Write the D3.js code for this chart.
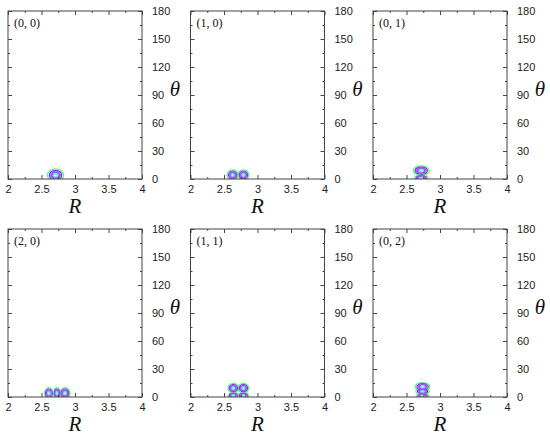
<!DOCTYPE html>
<html>
<head>
<meta charset="utf-8">
<script src="https://cdn.jsdelivr.net/npm/d3@7"></script>
<style>
  body { margin: 0; background: #fff; }
  .tick text { font-family: Arial, "Liberation Sans", sans-serif; font-size: 11px; fill: #222; }
  .tick line { stroke: #444; }
</style>
</head>
<body>
<svg id="chart" width="550" height="439"></svg>
<script>
// quantum numbers shown in each panel, row by row
const panelLabels = ['(0, 0)', '(1, 0)', '(0, 1)', '(2, 0)', '(1, 1)', '(0, 2)'];

// lobes per panel: [R centre, theta centre, R half-width, theta half-height] (outer contour)
const lobes00 = [[2.71, 4, 0.12, 7]];
const lobes10 = [[2.63, 4.3, 0.08, 5.6], [2.79, 4.3, 0.08, 5.6]];
const lobes01 = [[2.72, 9, 0.12, 5], [2.72, 1, 0.1, 3]];
const lobes20 = [[2.61, 4, 0.065, 6], [2.73, 4, 0.05, 6], [2.85, 4, 0.075, 6]];
const lobes11 = [[2.64, 9.5, 0.08, 5], [2.79, 9.5, 0.08, 5], [2.64, 1.5, 0.075, 3], [2.79, 1.5, 0.075, 3]];
const lobes02 = [[2.74, 11, 0.11, 4.5], [2.74, 6, 0.1, 2.5], [2.74, 1.2, 0.09, 2.2]];
const panelLobes = [lobes00, lobes10, lobes01, lobes20, lobes11, lobes02];

// contour levels as fraction of outer contour size
const levels = [1, 0.76, 0.6, 0.44, 0.28, 0.13];

// axes
const rDomain = [2, 4];
const thetaDomain = [0, 180];
const rMajor = [2, 2.5, 3, 3.5, 4];
const rMinor = [2.25, 2.75, 3.25, 3.75];
const thetaMajor = [0, 30, 60, 90, 120, 150, 180];
const thetaMinor = [15, 45, 75, 105, 135, 165];

//#region Layout
const svg = d3.select('#chart');
const panelWidth = 134;
const panelHeight = 168;
const colX = [8, 190.5, 373];
const rowY = [11, 229];

const levelStyle = [
    { stroke: '#55ff55', fill: 'none' },
    { stroke: '#3a3aff', fill: 'none' },
    { stroke: '#ff3cff', fill: '#e050ff' },
    { stroke: '#9a4cff', fill: '#9a4cff' },
    { stroke: '#44ffff', fill: '#66ffff' },
    { stroke: 'none', fill: '#ffffff' }
];
const serif = '"Liberation Serif", "Times New Roman", serif';
//#endregion

const x = d3.scaleLinear().domain(rDomain).range([0, panelWidth]);
const y = d3.scaleLinear().domain(thetaDomain).range([panelHeight, 0]);

const fmtR = d => d3.format('')(d);

panelLabels.forEach((label, i) => {
    const col = i % 3;
    const row = Math.floor(i / 3);
    const g = svg.append('g')
        .attr('transform', `translate(${colX[col]}, ${rowY[row]})`);

    g.append('clipPath')
        .attr('id', `clip${i}`)
        .append('rect')
        .attr('width', panelWidth)
        .attr('height', panelHeight);

    // contours
    const contours = g.append('g').attr('clip-path', `url(#clip${i})`);
    levels.forEach((f, li) => {
        contours.selectAll(null)
            .data(panelLobes[i])
            .enter().append('ellipse')
            .attr('cx', d => x(d[0]))
            .attr('cy', d => y(d[1]))
            .attr('rx', d => x(rDomain[0] + d[2] * f) - x(rDomain[0]))
            .attr('ry', d => y(0) - y(d[3] * f))
            .attr('fill', levelStyle[li].fill)
            .attr('stroke', levelStyle[li].stroke)
            .attr('stroke-width', 1.2);
    });

    // ticks on all four sides, pointing inward
    const addAxis = (axis, transform, labels) => {
        const a = g.append('g').attr('transform', transform).call(axis);
        a.select('.domain').remove();
        if (!labels) a.selectAll('text').remove();
        return a;
    };

    addAxis(d3.axisBottom(x).tickValues(rMajor).tickSize(-4).tickPadding(6).tickFormat(fmtR),
        `translate(0, ${panelHeight})`, true);
    addAxis(d3.axisBottom(x).tickValues(rMinor).tickSize(-2),
        `translate(0, ${panelHeight})`, false);
    addAxis(d3.axisTop(x).tickValues(rMajor).tickSize(-4), 'translate(0, 0)', false);
    addAxis(d3.axisTop(x).tickValues(rMinor).tickSize(-2), 'translate(0, 0)', false);

    addAxis(d3.axisRight(y).tickValues(thetaMajor).tickSize(-4).tickPadding(10),
        `translate(${panelWidth}, 0)`, true);
    addAxis(d3.axisRight(y).tickValues(thetaMinor).tickSize(-2),
        `translate(${panelWidth}, 0)`, false);
    addAxis(d3.axisLeft(y).tickValues(thetaMajor).tickSize(-4), 'translate(0, 0)', false);
    addAxis(d3.axisLeft(y).tickValues(thetaMinor).tickSize(-2), 'translate(0, 0)', false);

    g.append('rect')
        .attr('width', panelWidth)
        .attr('height', panelHeight)
        .attr('fill', 'none')
        .attr('stroke', '#444')
        .attr('stroke-width', 1);

    g.append('text')
        .attr('x', 6)
        .attr('y', 16)
        .attr('font-family', serif)
        .attr('font-size', 12)
        .attr('fill', '#111')
        .text(label);

    g.append('text')
        .attr('x', panelWidth / 2)
        .attr('y', panelHeight + 34)
        .attr('text-anchor', 'middle')
        .attr('font-family', serif)
        .attr('font-style', 'italic')
        .attr('font-size', 21)
        .attr('fill', '#111')
        .text('R');

    g.append('text')
        .attr('x', panelWidth + 33)
        .attr('y', y(90) + 1)
        .attr('text-anchor', 'middle')
        .attr('font-family', serif)
        .attr('font-style', 'italic')
        .attr('font-size', 21)
        .attr('fill', '#111')
        .text('θ');
});
</script>
</body>
</html>
